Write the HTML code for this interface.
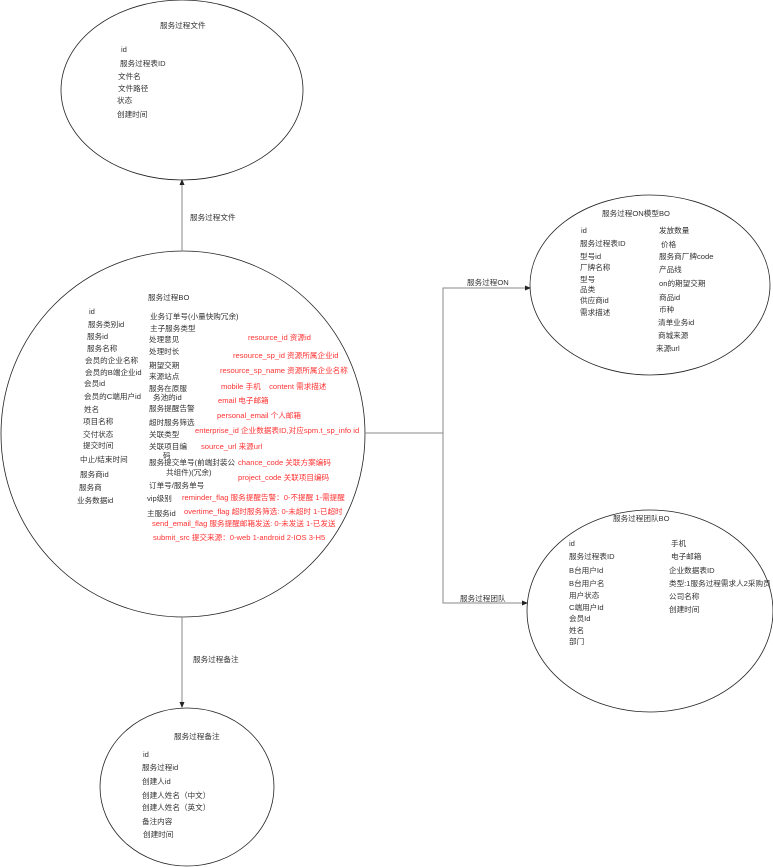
<!DOCTYPE html>
<html><head><meta charset="utf-8"><style>
body{margin:0;background:#fff;}
#c{position:relative;width:773px;height:867px;overflow:hidden;font-family:"Liberation Sans","Noto Sans CJK SC",sans-serif;font-size:7.6px;color:#333;}
.t{position:absolute;white-space:nowrap;line-height:10px;}
.r{color:#f33;}
svg{position:absolute;left:0;top:0;}
</style></head><body><div id="c">
<svg width="773" height="867">
<g fill="none" stroke="#222" stroke-width="0.8">
<ellipse cx="182" cy="90" rx="121" ry="90"/>
<ellipse cx="183" cy="434" rx="182" ry="183"/>
<ellipse cx="650" cy="285" rx="120" ry="90"/>
<ellipse cx="650" cy="611" rx="123" ry="101"/>
<ellipse cx="187" cy="787" rx="87" ry="79"/>
</g>
<g stroke="#888" stroke-width="1" fill="none">
<line x1="182" y1="251" x2="182" y2="183"/>
<line x1="182" y1="617" x2="182" y2="704"/>
<line x1="365" y1="433" x2="443" y2="433"/>
<polyline points="527,288 443,288 443,603 524,603"/>
</g>
<g fill="#222">
<polygon points="182,179 179.5,185 184.5,185"/>
<polygon points="182,708 179.5,702 184.5,702"/>
<polygon points="531,288 525,285.5 525,290.5"/>
<polygon points="528,603 522,600.5 522,605.5"/>
</g>
</svg>
<div class="t" style="left:160px;top:21px">服务过程文件</div>
<div class="t" style="left:121px;top:45px">id</div>
<div class="t" style="left:120px;top:59px">服务过程表ID</div>
<div class="t" style="left:118px;top:72px">文件名</div>
<div class="t" style="left:118px;top:84px">文件路径</div>
<div class="t" style="left:117px;top:96px">状态</div>
<div class="t" style="left:117px;top:110px">创建时间</div>
<div class="t" style="left:190px;top:213px">服务过程文件</div>

<div class="t" style="left:148px;top:293px">服务过程BO</div>
<div class="t" style="left:89px;top:307px">id</div>
<div class="t" style="left:88px;top:320px">服务类别id</div>
<div class="t" style="left:87px;top:332px">服务id</div>
<div class="t" style="left:87px;top:344px">服务名称</div>
<div class="t" style="left:85px;top:356px">会员的企业名称</div>
<div class="t" style="left:85px;top:368px">会员的B端企业id</div>
<div class="t" style="left:84px;top:379px">会员id</div>
<div class="t" style="left:84px;top:392px">会员的C端用户id</div>
<div class="t" style="left:84px;top:405px">姓名</div>
<div class="t" style="left:83px;top:417px">项目名称</div>
<div class="t" style="left:83px;top:430px">交付状态</div>
<div class="t" style="left:83px;top:441px">提交时间</div>
<div class="t" style="left:80px;top:455px">中止/结束时间</div>
<div class="t" style="left:80px;top:470px">服务商id</div>
<div class="t" style="left:79px;top:483px">服务商</div>
<div class="t" style="left:77px;top:496px">业务数据id</div>

<div class="t" style="left:150px;top:312px">业务订单号(小量快购冗余)</div>
<div class="t" style="left:150px;top:324px">主子服务类型</div>
<div class="t" style="left:149px;top:335px">处理意见</div>
<div class="t" style="left:149px;top:347px">处理时长</div>
<div class="t" style="left:149px;top:361px">期望交期</div>
<div class="t" style="left:149px;top:372px">来源站点</div>
<div class="t" style="left:149px;top:384px">服务在原服</div>
<div class="t" style="left:153px;top:393px">务池的id</div>
<div class="t" style="left:149px;top:404px">服务提醒告警</div>
<div class="t" style="left:149px;top:418px">超时服务筛选</div>
<div class="t" style="left:149px;top:430px">关联类型</div>
<div class="t" style="left:149px;top:442px">关联项目编</div>
<div class="t" style="left:163px;top:451px">码</div>
<div class="t" style="left:149px;top:458px">服务提交单号(前端封装公</div>
<div class="t" style="left:166px;top:468px">共组件)(冗余)</div>
<div class="t" style="left:149px;top:481px">订单号/服务单号</div>
<div class="t" style="left:147px;top:494px">vip级别</div>
<div class="t" style="left:147px;top:509px">主服务id</div>

<div class="t r" style="left:248px;top:333px">resource_id 资源id</div>
<div class="t r" style="left:233px;top:351px">resource_sp_id 资源所属企业id</div>
<div class="t r" style="left:220px;top:366px">resource_sp_name 资源所属企业名称</div>
<div class="t r" style="left:221px;top:382px">mobile 手机&nbsp;&nbsp;&nbsp;&nbsp;content 需求描述</div>
<div class="t r" style="left:218px;top:396px">email 电子邮箱</div>
<div class="t r" style="left:217px;top:411px">personal_email 个人邮箱</div>
<div class="t r" style="left:195px;top:426px">enterprise_id 企业数据表ID,对应spm.t_sp_info id</div>
<div class="t r" style="left:201px;top:442px">source_url 来源url</div>
<div class="t r" style="left:238px;top:458px">chance_code 关联方案编码</div>
<div class="t r" style="left:238px;top:473px">project_code 关联项目编码</div>
<div class="t r" style="left:182px;top:493px">reminder_flag 服务提醒告警：0-不提醒 1-需提醒</div>
<div class="t r" style="left:184px;top:507px">overtime_flag 超时服务筛选: 0-未超时 1-已超时</div>
<div class="t r" style="left:152px;top:519px">send_email_flag 服务提醒邮箱发送: 0-未发送 1-已发送</div>
<div class="t r" style="left:153px;top:533px">submit_src 提交来源：0-web 1-android 2-IOS 3-H5</div>

<div class="t" style="left:467px;top:278px">服务过程ON</div>
<div class="t" style="left:460px;top:594px">服务过程团队</div>

<div class="t" style="left:602px;top:209px">服务过程ON模型BO</div>
<div class="t" style="left:581px;top:226px">id</div>
<div class="t" style="left:580px;top:239px">服务过程表ID</div>
<div class="t" style="left:580px;top:252px">型号id</div>
<div class="t" style="left:580px;top:263px">厂牌名称</div>
<div class="t" style="left:580px;top:275px">型号</div>
<div class="t" style="left:580px;top:285px">品类</div>
<div class="t" style="left:580px;top:296px">供应商id</div>
<div class="t" style="left:580px;top:308px">需求描述</div>
<div class="t" style="left:659px;top:226px">发放数量</div>
<div class="t" style="left:661px;top:240px">价格</div>
<div class="t" style="left:659px;top:252px">服务商厂牌code</div>
<div class="t" style="left:659px;top:265px">产品线</div>
<div class="t" style="left:659px;top:279px">on的期望交期</div>
<div class="t" style="left:659px;top:293px">商品id</div>
<div class="t" style="left:659px;top:305px">币种</div>
<div class="t" style="left:658px;top:318px">清单业务id</div>
<div class="t" style="left:658px;top:331px">商城来源</div>
<div class="t" style="left:656px;top:344px">来源url</div>

<div class="t" style="left:613px;top:514px">服务过程团队BO</div>
<div class="t" style="left:569px;top:539px">id</div>
<div class="t" style="left:569px;top:552px">服务过程表ID</div>
<div class="t" style="left:569px;top:566px">B台用户Id</div>
<div class="t" style="left:569px;top:579px">B台用户名</div>
<div class="t" style="left:569px;top:591px">用户状态</div>
<div class="t" style="left:569px;top:603px">C端用户Id</div>
<div class="t" style="left:569px;top:614px">会员Id</div>
<div class="t" style="left:569px;top:626px">姓名</div>
<div class="t" style="left:569px;top:637px">部门</div>
<div class="t" style="left:671px;top:539px">手机</div>
<div class="t" style="left:671px;top:552px">电子邮箱</div>
<div class="t" style="left:669px;top:566px">企业数据表ID</div>
<div class="t" style="left:669px;top:579px">类型:1服务过程需求人2采购员</div>
<div class="t" style="left:669px;top:592px">公司名称</div>
<div class="t" style="left:669px;top:605px">创建时间</div>

<div class="t" style="left:193px;top:655px">服务过程备注</div>
<div class="t" style="left:174px;top:732px">服务过程备注</div>
<div class="t" style="left:143px;top:750px">id</div>
<div class="t" style="left:142px;top:763px">服务过程id</div>
<div class="t" style="left:142px;top:777px">创建人id</div>
<div class="t" style="left:142px;top:791px">创建人姓名（中文）</div>
<div class="t" style="left:142px;top:803px">创建人姓名（英文）</div>
<div class="t" style="left:142px;top:817px">备注内容</div>
<div class="t" style="left:143px;top:830px">创建时间</div>
</div></body></html>
